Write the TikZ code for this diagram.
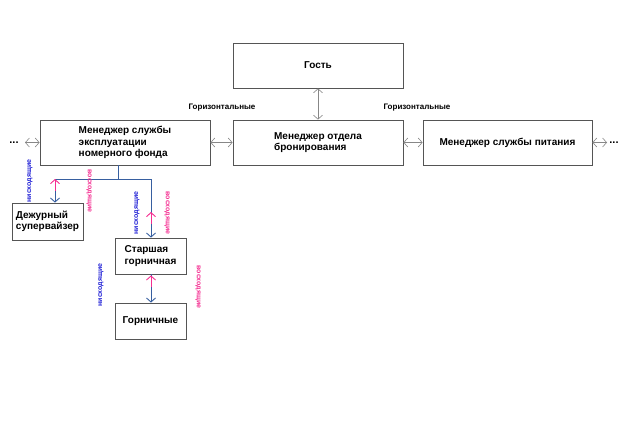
\documentclass[tikz,border=0pt]{standalone}
\usepackage{fontspec}
\setmainfont{Liberation Sans}
\usetikzlibrary{calc}
\usetikzlibrary{arrows.meta}

\definecolor{linkblue}{RGB}{55,95,160}
\definecolor{downblue}{RGB}{35,35,215}
\definecolor{uppink}{RGB}{245,45,145}
\definecolor{framegray}{RGB}{85,85,85}
\definecolor{arrowgray}{RGB}{135,135,135}

\begin{document}
\begin{tikzpicture}[x=1pt, y=-1pt, >={Straight Barb[length=4pt,width=9pt]}]
\tikzset{box/.style={draw=framegray,line width=0.8pt,minimum width=170pt,minimum height=45pt,align=left,inner sep=2pt,font=\fontsize{10}{11.5}\selectfont\bfseries}}
\tikzset{smallbox/.style={box,minimum width=71pt,minimum height=36pt}}
\tikzset{sidelink/.style={<->,draw=arrowgray,line width=0.6pt}}
\tikzset{treeline/.style={draw=linkblue,line width=0.9pt}}
\tikzset{downlink/.style={->,draw=linkblue,line width=0.9pt}}
\tikzset{uplink/.style={->,draw=uppink,line width=0.9pt}}
\tikzset{sidelabel/.style={font=\fontsize{8}{9}\selectfont\bfseries}}
\tikzset{downlabel/.style={text=downblue,rotate=90,inner sep=0pt,font=\fontsize{7}{8}\selectfont\bfseries}}
\tikzset{uplabel/.style={text=uppink,rotate=-90,inner sep=0pt,font=\fontsize{7}{8}\selectfont\bfseries}}

\useasboundingbox[fill=white] (0,0) rectangle (622,439);

% boxes
\node[box] (guest) at (318,65.5) {Гость};
\node[box] (hkmgr) at (125,142.5) {Менеджер службы\\эксплуатации\\номерного фонда};
\node[box] (resmgr) at (318,142.5) {Менеджер отдела\\бронирования};
\node[box,minimum width=169pt] (foodmgr) at (507.5,142.5) {Менеджер службы питания};
\node[smallbox,minimum height=37pt] (duty) at (47.5,221.5) {Дежурный\\супервайзер};
\node[smallbox] (senior) at (150.5,256) {Старшая\\горничная};
\node[smallbox] (maids) at (150.5,321) {Горничные};

% horizontal links
\coordinate (leftend) at (25,142.5);
\coordinate (rightend) at (607,142.5);
\node[font=\fontsize{11}{12}\selectfont\bfseries,inner sep=0pt] (leftdots) at (14,143) {...};
\node[font=\fontsize{11}{12}\selectfont\bfseries,inner sep=0pt] (rightdots) at (614,143) {...};
\draw[sidelink] (leftend) -- (hkmgr.west);
\draw[sidelink] (hkmgr.east) -- (resmgr.west);
\draw[sidelink] (resmgr.east) -- (foodmgr.west);
\draw[sidelink] (foodmgr.east) -- (rightend);
\draw[sidelink] (guest.south) -- (resmgr.north);
\node[sidelabel] (side1) at (222,107.5) {Горизонтальные};
\node[sidelabel] (side2) at (417,108) {Горизонтальные};

% vertical links - down in blue, up in pink
\coordinate (fork) at (118,179);
\coordinate (forkleft) at (55,179);
\coordinate (forkright) at (151,179);
\coordinate (seniorup) at (151,212);
\draw[treeline] (hkmgr.south -| fork) -- (fork);
\draw[treeline] (forkleft) -- (forkright);
\draw[downlink] (forkleft) -- (duty.north -| forkleft);
\draw[downlink] (forkright) -- (senior.north -| forkright);
\draw[downlink] (senior.south -| forkright) -- (maids.north -| forkright);
\draw[uplink] ($(forkleft)+(0,12)$) -- (forkleft);
\draw[uplink] ($(seniorup)+(0,12)$) -- (seniorup);
\draw[uplink] ($(senior.south -| forkright)+(0,13)$) -- ($(senior.south -| forkright)+(0,1)$);

\node[downlabel] (down1) at (30,181) {нисходящие};
\node[uplabel] (up1) at (89,191) {восходящие};
\node[downlabel] (down2) at (137,213) {нисходящие};
\node[uplabel] (up2) at (167,213) {восходящие};
\node[downlabel] (down3) at (101,285) {нисходящие};
\node[uplabel] (up3) at (198,287) {восходящие};

\end{tikzpicture}
\end{document}
